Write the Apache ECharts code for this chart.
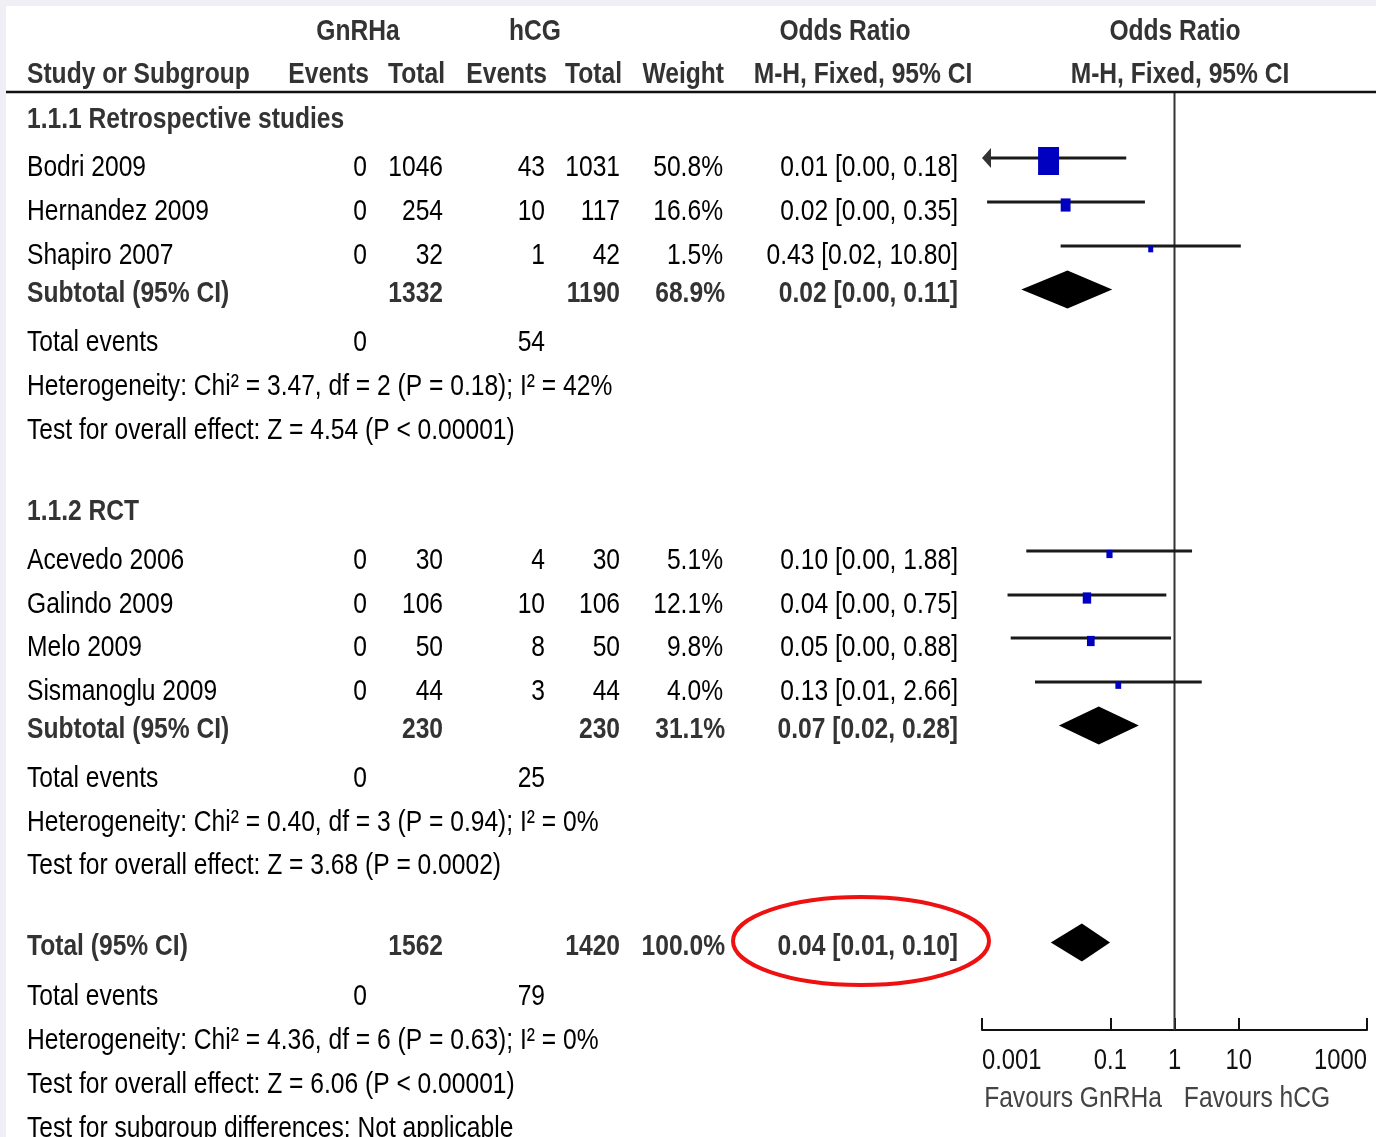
<!DOCTYPE html>
<html>
<head>
<meta charset="utf-8">
<script src="https://cdn.jsdelivr.net/npm/echarts@6/dist/echarts.min.js"></script>
<style>
  html, body { margin: 0; padding: 0; background: #fff; }
  #chart { width: 1376px; height: 1137px; }
</style>
</head>
<body>
<div id="chart"></div>
<script>
// ---- study data ----
const studyNames   = ['Bodri 2009', 'Hernandez 2009', 'Shapiro 2007', 'Acevedo 2006', 'Galindo 2009', 'Melo 2009', 'Sismanoglu 2009'];
const gnrhaEvents  = [0, 0, 0, 0, 0, 0, 0];
const gnrhaTotal   = [1046, 254, 32, 30, 106, 50, 44];
const hcgEvents    = [43, 10, 1, 4, 10, 8, 3];
const hcgTotal     = [1031, 117, 42, 30, 106, 50, 44];
const studyWeight  = [50.8, 16.6, 1.5, 5.1, 12.1, 9.8, 4.0];
const studyOR      = [0.0109, 0.0201, 0.426, 0.097, 0.0432, 0.0496, 0.133];
const studyLow     = [0.0007, 0.0012, 0.0168, 0.0049, 0.0025, 0.0028, 0.0067];
const studyHigh    = [0.177, 0.346, 10.80, 1.877, 0.746, 0.882, 2.66];

// ---- pooled estimates: subgroup 1.1.1, subgroup 1.1.2, overall ----
const pooledNames       = ['Subtotal (95% CI)', 'Subtotal (95% CI)', 'Total (95% CI)'];
const pooledGnrhaTotal  = [1332, 230, 1562];
const pooledHcgTotal    = [1190, 230, 1420];
const pooledWeight      = [68.9, 31.1, 100.0];
const pooledGnrhaEvents = [0, 0, 0];
const pooledHcgEvents   = [54, 25, 79];
const pooledOR          = [0.0215, 0.066, 0.036];
const pooledLow         = [0.0041, 0.0158, 0.0118];
const pooledHigh        = [0.107, 0.278, 0.099];

const groupTitles = ['1.1.1 Retrospective studies', '1.1.2 RCT'];
const heterogeneityText = [
  'Heterogeneity: Chi\u00b2 = 3.47, df = 2 (P = 0.18); I\u00b2 = 42%',
  'Heterogeneity: Chi\u00b2 = 0.40, df = 3 (P = 0.94); I\u00b2 = 0%',
  'Heterogeneity: Chi\u00b2 = 4.36, df = 6 (P = 0.63); I\u00b2 = 0%'
];
const overallEffectText = [
  'Test for overall effect: Z = 4.54 (P < 0.00001)',
  'Test for overall effect: Z = 3.68 (P = 0.0002)',
  'Test for overall effect: Z = 6.06 (P < 0.00001)'
];
const subgroupDiffText = 'Test for subgroup differences: Not applicable';

// ---- axis ----
const axisTickValues = [0.001, 0.1, 1, 10, 1000];
const axisTickLabels = ['0.001', '0.1', '1', '10', '1000'];
const favoursLabels  = ['Favours GnRHa', 'Favours hCG'];

// ---- page layout (vertical row centres in px, column anchors) ----
const rows = {
  head1: 30, head2: 73, rule: 92,
  groupTitle: [118, 510],
  study: [166, 210, 254, 559, 603, 646, 690],
  pooled: [292, 728, 945],
  events: [341, 777, 995],
  het: [385, 821, 1039],
  effect: [429, 864, 1083],
  subgroupDiff: 1127,
  axis: 1030,
  tickLabel: 1061,
  favours: 1097
};
const cols = { name: 27, evG: 367, totG: 443, evH: 545, totH: 620, wt: 723, or: 958 };
const X_MIN = 0.001, X_MAX = 1000;

// font detection: prefer a condensed face, otherwise squeeze the regular one
function fontAvailable(name) {
  const ctx = document.createElement('canvas').getContext('2d');
  const s = 'Study or Subgroup 0123456789';
  ctx.font = '30px monospace';
  const a = ctx.measureText(s).width;
  ctx.font = '30px "' + name + '", monospace';
  return ctx.measureText(s).width !== a;
}
const narrow = fontAvailable('Liberation Sans Narrow');
const FAMILY = narrow ? '"Liberation Sans Narrow"' : '"Liberation Sans"';
const SX = narrow ? 1 : 0.82;
const TEXT_DY = 2;

function fmtOR(e, l, h) {
  return e.toFixed(2) + ' [' + l.toFixed(2) + ', ' + h.toFixed(2) + ']';
}

const texts = [];
function addText(str, x, y, align, bold, color) {
  texts.push({
    type: 'text', x: x, y: y + TEXT_DY, scaleX: SX, z: 100, silent: true,
    style: {
      text: String(str), x: 0, y: 0,
      font: (bold ? 'bold ' : '') + '30px ' + FAMILY,
      fill: color || (bold ? '#333' : '#000'),
      align: align, verticalAlign: 'middle'
    }
  });
}

// header
addText('GnRHa', 358, rows.head1, 'center', true);
addText('hCG', 535, rows.head1, 'center', true);
addText('Odds Ratio', 845, rows.head1, 'center', true);
addText('Odds Ratio', 1175, rows.head1, 'center', true);
addText('Study or Subgroup', cols.name, rows.head2, 'left', true);
addText('Events', cols.evG + 2, rows.head2, 'right', true);
addText('Total', cols.totG + 2, rows.head2, 'right', true);
addText('Events', cols.evH + 2, rows.head2, 'right', true);
addText('Total', cols.totH + 2, rows.head2, 'right', true);
addText('Weight', cols.wt + 1, rows.head2, 'right', true);
addText('M-H, Fixed, 95% CI', 863, rows.head2, 'center', true);
addText('M-H, Fixed, 95% CI', 1180, rows.head2, 'center', true);

// group titles
groupTitles.forEach((t, g) => addText(t, cols.name, rows.groupTitle[g], 'left', true));

// study rows
studyNames.forEach((n, i) => {
  const y = rows.study[i];
  addText(n, cols.name, y, 'left', false);
  addText(gnrhaEvents[i], cols.evG, y, 'right', false);
  addText(gnrhaTotal[i], cols.totG, y, 'right', false);
  addText(hcgEvents[i], cols.evH, y, 'right', false);
  addText(hcgTotal[i], cols.totH, y, 'right', false);
  addText(studyWeight[i].toFixed(1) + '%', cols.wt, y, 'right', false);
  addText(fmtOR(studyOR[i], studyLow[i], studyHigh[i]), cols.or, y, 'right', false);
});

// pooled rows + summary lines
pooledNames.forEach((n, k) => {
  const y = rows.pooled[k];
  addText(n, cols.name, y, 'left', true);
  addText(pooledGnrhaTotal[k], cols.totG, y, 'right', true);
  addText(pooledHcgTotal[k], cols.totH, y, 'right', true);
  addText(pooledWeight[k].toFixed(1) + '%', cols.wt + 2, y, 'right', true);
  addText(fmtOR(pooledOR[k], pooledLow[k], pooledHigh[k]), cols.or, y, 'right', true);
  addText('Total events', cols.name, rows.events[k], 'left', false);
  addText(pooledGnrhaEvents[k], cols.evG, rows.events[k], 'right', false);
  addText(pooledHcgEvents[k], cols.evH, rows.events[k], 'right', false);
  addText(heterogeneityText[k], cols.name, rows.het[k], 'left', false);
  addText(overallEffectText[k], cols.name, rows.effect[k], 'left', false);
});
addText(subgroupDiffText, cols.name, rows.subgroupDiff, 'left', false);

// axis captions
addText(favoursLabels[0], 1073, rows.favours, 'center', false, '#444');
addText(favoursLabels[1], 1257, rows.favours, 'center', false, '#444');

const chart = echarts.init(document.getElementById('chart'), null, { renderer: 'canvas' });

const studySeriesData = studyNames.map((n, i) => [studyOR[i], studyLow[i], studyHigh[i], rows.study[i], studyWeight[i]]);
const pooledSeriesData = pooledNames.map((n, k) => [pooledOR[k], pooledLow[k], pooledHigh[k], rows.pooled[k]]);
const tickLabelData = axisTickValues.map(v => [v, rows.tickLabel]);

function renderStudy(params, api) {
  const est = api.value(0), lo = api.value(1), hi = api.value(2), yRow = api.value(3), w = api.value(4);
  const lineY = api.coord([1, yRow - 8])[1];
  const clipped = lo < X_MIN;
  const xLo = api.coord([Math.max(lo, X_MIN), yRow])[0];
  const xHi = api.coord([Math.min(hi, X_MAX), yRow])[0];
  const xEst = api.coord([est, yRow])[0];
  // box size grows with the study weight
  const bw = 4.5 + 0.324 * w;
  const bh = 6 + 0.432 * w;
  const children = [];
  children.push({
    type: 'line',
    shape: { x1: clipped ? xLo + 8 : xLo, y1: lineY, x2: xHi, y2: lineY },
    style: { stroke: '#1a1a1a', lineWidth: 3 }
  });
  if (clipped) {
    children.push({
      type: 'polygon',
      shape: { points: [[xLo, lineY], [xLo + 9, lineY - 10], [xLo + 9, lineY + 10]] },
      style: { fill: '#333' }
    });
  }
  children.push({
    type: 'rect',
    shape: { x: xEst - bw / 2, y: lineY + 3 - bh / 2, width: bw, height: bh },
    style: { fill: '#0000c0' }
  });
  return { type: 'group', children: children };
}

function renderPooled(params, api) {
  const est = api.value(0), lo = api.value(1), hi = api.value(2), yRow = api.value(3);
  const yc = api.coord([1, yRow - 2.5])[1];
  const xl = api.coord([lo, yRow])[0];
  const xh = api.coord([hi, yRow])[0];
  const xe = api.coord([est, yRow])[0];
  return {
    type: 'polygon',
    shape: { points: [[xl, yc], [xe, yc - 19], [xh, yc], [xe, yc + 19]] },
    style: { fill: '#000' }
  };
}

// tick labels placed on the log scale; outer labels hug the axis ends
function renderTickLabel(params, api) {
  const i = params.dataIndex;
  const p = api.coord([api.value(0), api.value(1)]);
  const last = axisTickValues.length - 1;
  return {
    type: 'text', x: p[0], y: p[1], scaleX: SX,
    style: {
      text: axisTickLabels[i], x: 0, y: 0,
      font: '29px ' + FAMILY, fill: '#111',
      align: i === 0 ? 'left' : (i === last ? 'right' : 'center'),
      verticalAlign: 'middle'
    }
  };
}

const option = {
  animation: false,
  backgroundColor: '#fff',
  grid: { left: 982, top: 0, width: 385, height: rows.axis },
  xAxis: {
    type: 'log', logBase: 10, min: X_MIN, max: X_MAX,
    axisLine: { show: true, onZero: false, lineStyle: { color: '#111', width: 2 } },
    axisTick: { show: true, inside: true, length: 12, customValues: axisTickValues, lineStyle: { color: '#111', width: 2 } },
    axisLabel: { show: false },
    splitLine: { show: false },
    minorTick: { show: false }
  },
  yAxis: { type: 'value', min: 0, max: rows.axis, inverse: true, show: false },
  series: [
    {
      name: 'no effect', type: 'line', silent: true, symbol: 'none',
      data: [[1, rows.rule], [1, rows.axis]],
      lineStyle: { color: '#333', width: 2 }, z: 1
    },
    {
      name: 'studies', type: 'custom', renderItem: renderStudy,
      encode: { x: [0, 1, 2], y: 3 }, data: studySeriesData, z: 5, silent: true
    },
    {
      name: 'pooled', type: 'custom', renderItem: renderPooled,
      encode: { x: [0, 1, 2], y: 3 }, data: pooledSeriesData, z: 5, silent: true
    },
    {
      name: 'tick labels', type: 'custom', renderItem: renderTickLabel, clip: false,
      encode: { x: 0, y: 1 }, data: tickLabelData, z: 5, silent: true
    }
  ],
  graphic: [
    { type: 'rect', z: 50, silent: true, shape: { x: 0, y: 0, width: 1376, height: 6 }, style: { fill: '#efeff5' } },
    { type: 'rect', z: 50, silent: true, shape: { x: 0, y: 0, width: 6, height: 1137 }, style: { fill: '#efeff5' } },
    { type: 'line', z: 60, silent: true, shape: { x1: 6, y1: rows.rule, x2: 1376, y2: rows.rule }, style: { stroke: '#111', lineWidth: 2.5 } },
    { type: 'ellipse', z: 60, silent: true, shape: { cx: 861, cy: 941, rx: 128, ry: 44 }, style: { fill: null, stroke: '#ee1111', lineWidth: 4 } }
  ].concat(texts)
};

chart.setOption(option);
</script>
</body>
</html>
